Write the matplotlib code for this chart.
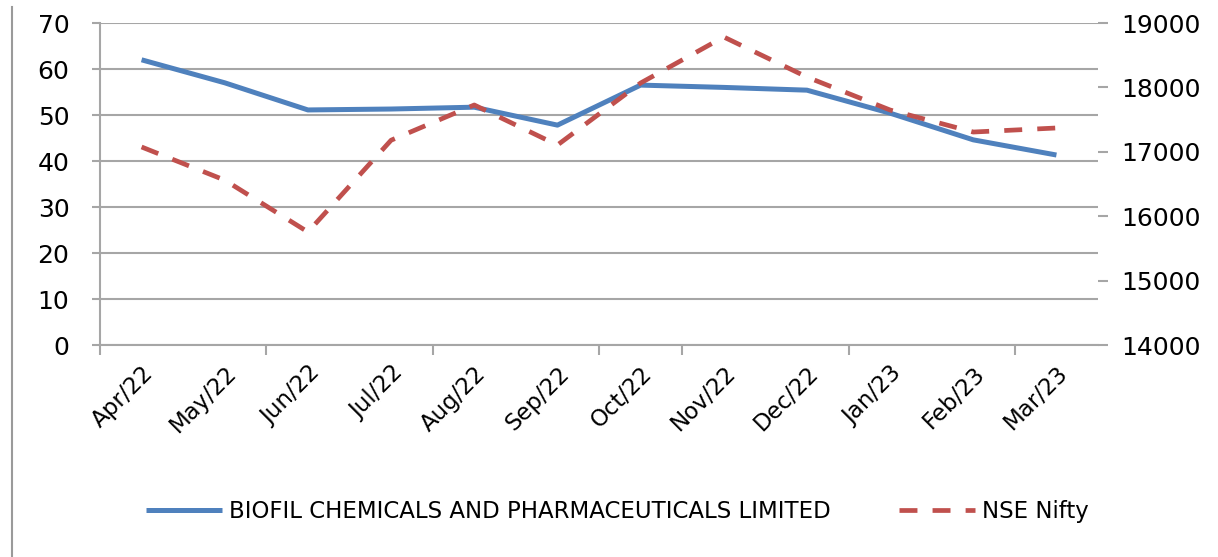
import matplotlib
matplotlib.use("Agg")
import matplotlib.pyplot as plt
from matplotlib.lines import Line2D

# ==================================================
# DATA
# ==================================================

months = ["Apr/22", "May/22", "Jun/22", "Jul/22", "Aug/22", "Sep/22",
          "Oct/22", "Nov/22", "Dec/22", "Jan/23", "Feb/23", "Mar/23"]

biofil = [62.0, 57.0, 51.1, 51.3, 51.7, 47.8,
          56.5, 56.0, 55.4, 50.4, 44.6, 41.3]

nifty = [17075, 16560, 15755, 17180, 17727, 17105,
         18068, 18783, 18161, 17649, 17307, 17370]

left_ticks = [0, 10, 20, 30, 40, 50, 60, 70]
right_ticks = [14000, 15000, 16000, 17000, 18000, 19000]

BLUE = "#4F81BD"
RED = "#C0504D"
GRID = "#A6A6A6"

# odd tick-mark boundaries as drawn in the source chart
tick_marks = [-0.5, 1.5, 3.5, 5.5, 6.5, 8.5, 10.5]

plt.rcParams["font.family"] = ["DejaVu Sans"]

# ==================================================
# FIGURE
# ==================================================

fig = plt.figure(figsize=(12.18, 5.57), dpi=100)
ax = fig.add_axes([0.0821, 0.3806, 0.8194, 0.5781])
ax2 = ax.twinx()

x = list(range(len(months)))

ax.plot(x, biofil, color=BLUE, linewidth=3.6,
        label="BIOFIL CHEMICALS AND PHARMACEUTICALS LIMITED",
        solid_capstyle="butt")
ax2.plot(x, nifty, color=RED, linewidth=3.4, linestyle=(0, (3.8, 3.2)),
         label="NSE Nifty", dash_capstyle="butt")

# ==================================================
# AXES
# ==================================================

ax.set_xlim(-0.5, len(months) - 0.5)
ax.set_ylim(0, 70)
ax2.set_ylim(14000, 19000)

ax.set_yticks(left_ticks)
ax2.set_yticks(right_ticks)
ax.yaxis.grid(True, color=GRID, linewidth=1.5)
ax.set_axisbelow(True)

ax.set_xticks(x)
ax.set_xticklabels(months, rotation=45, ha="right",
                   rotation_mode="anchor", fontsize=16.5)
ax.set_xticks(tick_marks, minor=True)
ax.tick_params(axis="x", which="major", length=0, pad=12)
ax.tick_params(axis="x", which="minor", length=7, width=1.5,
               color=GRID, direction="out")

ax.tick_params(axis="y", length=6, width=1.5, color=GRID,
               labelsize=18, pad=16)
ax2.tick_params(axis="y", length=7, width=1.5, color=GRID,
                labelsize=18, pad=10)

for side in ["top", "right"]:
    ax.spines[side].set_visible(False)
for side in ["top", "right", "left", "bottom"]:
    ax2.spines[side].set_visible(False)
ax.spines["left"].set_color(GRID)
ax.spines["left"].set_linewidth(1.5)
ax.spines["bottom"].set_color(GRID)
ax.spines["bottom"].set_linewidth(1.5)

# ==================================================
# LEGEND
# ==================================================

h1, l1 = ax.get_legend_handles_labels()
h2, l2 = ax2.get_legend_handles_labels()
fig.legend(h1 + h2, l1 + l2, loc="center", bbox_to_anchor=(0.507, 0.081),
           ncol=2, frameon=False, fontsize=16.5, handlelength=3.3,
           handletextpad=0.3, columnspacing=3.0)

# frame edge on the left of the source image
fig.add_artist(Line2D([0.0099, 0.0099], [0.0, 0.988],
                      transform=fig.transFigure, color="#9A9A9A",
                      linewidth=1.5))

fig.savefig("out.png", dpi=100)
